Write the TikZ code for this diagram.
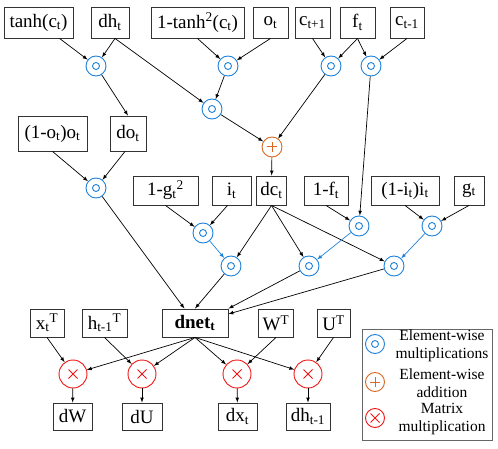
\documentclass[tikz,border=0pt]{standalone}
\usepackage{fontspec}
\setmainfont{Liberation Serif}
\definecolor{emblue}{RGB}{30,130,220}
\definecolor{addorange}{RGB}{215,105,35}
\definecolor{mmred}{RGB}{240,20,20}
\begin{document}
\begin{tikzpicture}[x=1pt, y=-1pt,
	box/.style={draw=black!80, line width=0.9pt, minimum height=29pt, inner xsep=4pt, font=\fontsize{19}{22}\selectfont},
	emul/.style={draw=emblue, circle, line width=0.9pt, minimum size=20pt, inner sep=0pt,
		path picture={\draw[emblue, line width=0.9pt] (path picture bounding box.center) circle (3.5pt);}},
	eadd/.style={draw=addorange, circle, line width=0.9pt, minimum size=20pt, inner sep=0pt,
		path picture={\draw[addorange, line width=1pt] ([xshift=-5pt]path picture bounding box.center) -- ([xshift=5pt]path picture bounding box.center)
			([yshift=-5pt]path picture bounding box.center) -- ([yshift=5pt]path picture bounding box.center);}},
	mmul/.style={draw=mmred, circle, line width=0.9pt, minimum size=28pt, inner sep=0pt,
		path picture={\draw[mmred, line width=1pt] ([shift={(-4.5pt,-4.5pt)}]path picture bounding box.center) -- ([shift={(4.5pt,4.5pt)}]path picture bounding box.center)
			([shift={(-4.5pt,4.5pt)}]path picture bounding box.center) -- ([shift={(4.5pt,-4.5pt)}]path picture bounding box.center);}},
	arr/.style={-latex, line width=0.7pt},
	barr/.style={-latex, line width=0.7pt, emblue},
	legtext/.style={align=center, font=\fontsize{15.5}{18}\selectfont}]
	\useasboundingbox (0,0) rectangle (498,449);
	
	% inputs
	\node[box, minimum width=69pt, minimum height=31pt] (tanh) at (38.5,22.5) {tanh(c\textsubscript{t})};
	\node[box, minimum width=38pt, minimum height=31pt] (dh) at (110,22.5) {dh\textsubscript{t}};
	\node[box, minimum width=93pt, minimum height=31pt] (tanhsq) at (197.5,22.5) {1-tanh\textsuperscript{2}(c\textsubscript{t})};
	\node[box, minimum width=35pt, minimum height=31pt] (o) at (270.5,22.5) {o\textsubscript{t}};
	\node[box, minimum width=35pt, minimum height=31pt] (cnext) at (312.5,22.5) {c\textsubscript{t+1}};
	\node[box, minimum width=35pt, minimum height=31pt] (f) at (357.5,22.5) {f\textsubscript{t}};
	\node[box, minimum width=34pt, minimum height=31pt] (cprev) at (407,22.5) {c\textsubscript{t-1}};
	
	\node[emul] (m1) at (96,66) {};
	\node[emul] (m2) at (228,66) {};
	\node[emul] (m3) at (212,109) {};
	\node[emul] (m4) at (331,66) {};
	\node[emul] (m5) at (371,66) {};
	\node[eadd] (a1) at (272,147) {};
	
	\node[box, minimum width=69pt, minimum height=35pt] (oo) at (52.5,133.5) {(1-o\textsubscript{t})o\textsubscript{t}};
	\node[box, minimum width=36pt, minimum height=35pt] (dot) at (128,133.5) {do\textsubscript{t}};
	\node[emul] (m6) at (96,188) {};
	
	\node[box, minimum width=65pt] (gsq) at (165.5,190.5) {1-g\textsubscript{t}\textsuperscript{2}};
	\node[box, minimum width=39pt] (i) at (231.5,190.5) {i\textsubscript{t}};
	\node[box, minimum width=29pt] (dc) at (271.5,190.5) {dc\textsubscript{t}};
	\node[box, minimum width=44pt] (onef) at (326,190.5) {1-f\textsubscript{t}};
	\node[box, minimum width=68pt] (onei) at (405,190.5) {(1-i\textsubscript{t})i\textsubscript{t}};
	\node[box, minimum width=30pt] (g) at (469,190.5) {g\textsubscript{t}};
	
	\node[emul] (m7) at (203,233) {};
	\node[emul] (m8) at (359,226) {};
	\node[emul] (m9) at (432,226) {};
	\node[emul] (m10) at (231,266) {};
	\node[emul] (m11) at (309,266) {};
	\node[emul] (m12) at (394,266) {};
	
	\node[box, minimum width=34pt, minimum height=28pt] (xT) at (47,323) {x\textsubscript{t}\textsuperscript{T}};
	\node[box, minimum width=45pt, minimum height=28pt] (hT) at (104.5,323) {h\textsubscript{t-1}\textsuperscript{T}};
	\node[box, minimum width=66pt, minimum height=28pt] (dnet) at (195,323) {\textbf{dnet\textsubscript{t}}};
	\node[box, minimum width=34pt, minimum height=28pt] (WT) at (276,323) {W\textsuperscript{T}};
	\node[box, minimum width=33pt, minimum height=28pt] (UT) at (333.5,323) {U\textsuperscript{T}};
	
	\node[mmul] (x1) at (73,374) {};
	\node[mmul] (x2) at (142,374) {};
	\node[mmul] (x3) at (237,374) {};
	\node[mmul] (x4) at (308,374) {};
	
	\node[box, minimum width=39pt, minimum height=27pt] (dW) at (72.5,416.5) {dW};
	\node[box, minimum width=40pt, minimum height=27pt] (dU) at (142,416.5) {dU};
	\node[box, minimum width=39pt, minimum height=27pt] (dx) at (237.5,416.5) {dx\textsubscript{t}};
	\node[box, minimum width=44pt, minimum height=27pt] (dhp) at (308,416.5) {dh\textsubscript{t-1}};
	
	% edges
	\draw[arr] (tanh) -- (m1);
	\draw[arr] ([xshift=5pt]dh.south) -- (m1);
	\draw[arr] ([xshift=5pt]dh.south) -- (m3);
	\draw[arr] (m1) -- (dot.north);
	\draw[arr] (tanhsq.south) -- (m2);
	\draw[arr] (o.south) -- (m2);
	\draw[arr] (m2) -- (m3);
	\draw[arr] (m3) -- (a1);
	\draw[arr] (cnext.south) -- (m4);
	\draw[arr] (f.south) -- (m4);
	\draw[arr] (f.south) -- (m5);
	\draw[arr] (cprev.south) -- (m5);
	\draw[arr] (m4) -- (a1);
	\draw[arr] (a1) -- (dc);
	\draw[arr] (m5) -- (m8);
	\draw[arr] (oo.south) -- (m6);
	\draw[arr] ([xshift=-3pt]dot.south) -- (m6);
	\draw[arr] (m6) -- (dnet);
	\draw[arr] (gsq.south) -- (m7);
	\draw[arr] ([xshift=-4pt]i.south) -- (m7);
	\draw[barr] (m7) -- (m10);
	\draw[arr] (onef.south) -- (m8);
	\draw[arr] (onei.south) -- (m9);
	\draw[arr] (g.south) -- (m9);
	\draw[arr] (dc.south) -- (m10);
	\draw[arr] (dc.south) -- (m11);
	\draw[arr] (dc.south) -- (m12);
	\draw[barr] (m8) -- (m11);
	\draw[barr] (m9) -- (m12);
	\draw[arr] (m10) -- (dnet.north);
	\draw[arr] (m11) -- (dnet.north east);
	\draw[arr] (m12) -- ([yshift=9pt]dnet.east);
	
	\draw[arr] (xT.south) -- (x1);
	\draw[arr] (hT.south) -- (x2);
	\draw[arr] (WT.south) -- (x3);
	\draw[arr] (UT.south) -- (x4);
	\foreach \m in {x1,x2,x3,x4}
		\draw[arr] (dnet.south) -- (\m);
	\draw[arr] (x1) -- (dW);
	\draw[arr] (x2) -- (dU);
	\draw[arr] (x3) -- (dx);
	\draw[arr] (x4) -- (dhp);
	
	% legend
	\node[draw=black!60, line width=0.8pt, minimum width=130pt, minimum height=111pt] (legend) at (427,384.5) {};
	\node[emul, minimum size=19pt] (le) at (375,344) {};
	\node[eadd, minimum size=19pt] (la) at (375,382) {};
	\node[mmul, minimum size=19pt] (lm) at (375,418) {};
	\node[legtext] (lte) at (442,346) {Element-wise\\multiplications};
	\node[legtext] (lta) at (442,383) {Element-wise\\addition};
	\node[legtext] (ltm) at (442,419) {Matrix\\multiplication};
\end{tikzpicture}
\end{document}
